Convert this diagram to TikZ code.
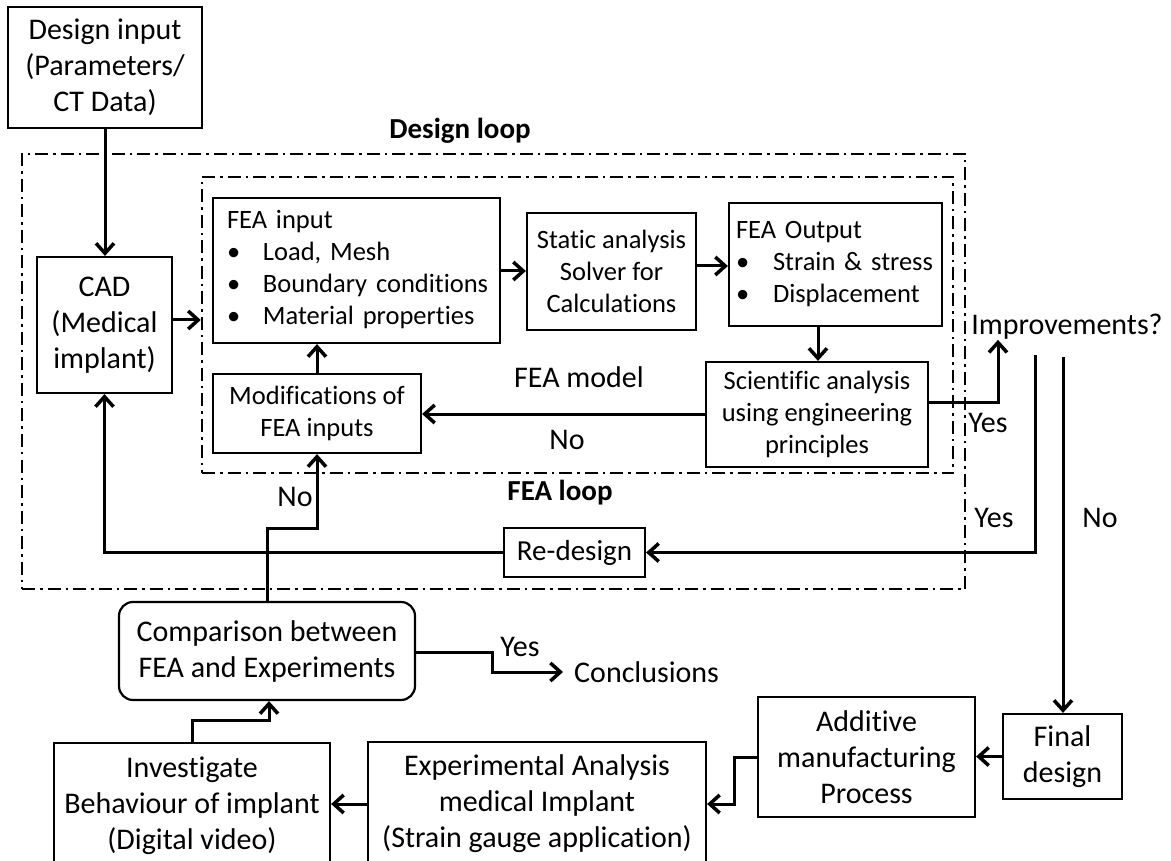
\documentclass[tikz,border=0pt]{standalone}
\usepackage{fontspec}
\setmainfont{Carlito}[Ligatures=NoCommon]
\usetikzlibrary{arrows.meta}

\begin{document}
\begin{tikzpicture}[x=1pt, y=-1pt,
  txt/.style={inner sep=0pt, font=\fontsize{26.5}{32}\selectfont},
  big/.style={font=\fontsize{30}{36}\selectfont},
  box/.style={txt, draw, line width=2.2pt, align=center},
  listbox/.style={box, align=left},
  frame/.style={draw, line width=2.5pt, dash pattern=on 13pt off 5pt on 2.5pt off 5pt},
  flow/.style={line width=3pt, -{Straight Barb[length=10pt,width=18pt,line width=3.5pt]}},
  looptitle/.style={txt, font=\fontsize{29}{34}\selectfont\bfseries}]
\useasboundingbox (0,0) rectangle (1171,861);

\node[frame, minimum width=943pt, minimum height=435pt] (designloop) at (493.5,371.5) {};
\node[frame, minimum width=751pt, minimum height=296pt] (fealoop) at (577.5,325) {};
\node[looptitle] (designtitle) at (460,131) {Design loop};
\node[looptitle] (featitle) at (560,493) {FEA loop};

\node[box, big, minimum width=194pt, minimum height=121pt] (input) at (105,67.5) {Design input\\(Parameters/\\CT Data)};
\node[box, big, minimum width=135pt, minimum height=136pt] (cad) at (104.5,325) {CAD\\(Medical\\implant)};
\node[listbox, text width=259pt, inner xsep=14pt, minimum height=145pt] (feain) at (356.5,270.5)
  {\begin{tabular}{@{}l@{}}FEA input\\\makebox[36pt][l]{\textbullet}Load, Mesh\\\makebox[36pt][l]{\textbullet}Boundary conditions\\\makebox[36pt][l]{\textbullet}Material properties\end{tabular}};
\node[box, minimum width=169pt, minimum height=117pt] (static) at (611.5,271.5) {Static analysis\\Solver for\\Calculations};
\node[listbox, text width=199pt, inner xsep=7pt, minimum height=123pt] (feaout) at (835.5,264.5)
  {\begin{tabular}{@{}l@{}}FEA Output\\\makebox[37pt][l]{\textbullet}Strain \& stress\\\makebox[37pt][l]{\textbullet}Displacement\end{tabular}};
\node[box, minimum width=222pt, minimum height=105pt] (sci) at (817,414.5) {Scientific analysis\\using engineering\\principles};
\node[box, minimum width=208pt, minimum height=79pt] (modif) at (317,413.5) {Modifications of\\FEA inputs};
\node[box, font=\fontsize{29}{34}\selectfont, minimum width=141pt, minimum height=49pt] (redesign) at (574.5,552.5) {Re-design};
\node[box, big, rounded corners=14pt, minimum width=296pt, minimum height=98pt] (compare) at (267,651) {Comparison between\\FEA and Experiments};
\node[box, big, minimum width=119pt, minimum height=85pt] (final) at (1062.5,756.5) {Final\\design};
\node[box, big, minimum width=217pt, minimum height=120pt] (additive) at (866.5,757) {Additive\\manufacturing\\Process};
\node[box, big, minimum width=338pt, minimum height=124pt] (exper) at (537,804) {Experimental Analysis\\medical Implant\\(Strain gauge application)};
\node[box, big, minimum width=276pt, minimum height=126pt] (invest) at (192,806) {Investigate\\Behaviour of implant\\(Digital video)};

\node[txt, big] (feamodel) at (579,377) {FEA model};
\node[txt, big] (improve) at (1067,327) {Improvements?};
\node[txt, big, anchor=west] (concl) at (574,672) {Conclusions};
\node[txt, big] (nomodif) at (567,440) {No};
\node[txt, big] (yessci) at (988,423) {Yes};
\node[txt, big] (yesredesign) at (994,518) {Yes};
\node[txt, big] (nofinal) at (1100,518) {No};
\node[txt, big] (nocompare) at (295,497) {No};
\node[txt, big] (yescompare) at (520,647) {Yes};

\coordinate (yesstart) at (1035,355);
\coordinate (nostart) at (1063,357);

\draw[flow] (input.south) -- (input.south |- cad.north);
\draw[flow] (cad.east |- 0,320) -- (fealoop.west |- 0,320);
\draw[flow] (feain.east |- 0,271) -- (static.west |- 0,271);
\draw[flow] (static.east |- 0,266) -- (feaout.west |- 0,266);
\draw[flow] (feaout.south -| 818,0) -- (sci.north -| 818,0);
\draw[flow] (modif.north -| 317,0) -- (feain.south -| 317,0);
\draw[flow] (sci.west |- 0,414) -- (modif.east |- 0,414);
\draw[flow] (sci.east |- 0,402) -| (improve.south -| 998,0);
\draw[flow] (yesstart) |- (redesign.east);
\draw[flow] (nostart) -- (nostart |- final.north);
\draw[flow] (redesign.west) -| (cad.south);
\draw[flow] (final.west) -- (additive.east |- final.west);
\draw[flow] (additive.west) -- ++(-22,0) |- (exper.east);
\draw[flow] (exper.west) -- (invest.east |- exper.west);
\draw[flow] (invest.north) -- ++(0,-21) -| (compare.south -| 269,0);
\draw[flow] (compare.north) -- (compare.north |- 0,528) -| (modif.south -| 317,0);
\draw[flow] (compare.east |- 0,652) -- (492,652) |- ([xshift=-11pt]concl.west);
\end{tikzpicture}
\end{document}
